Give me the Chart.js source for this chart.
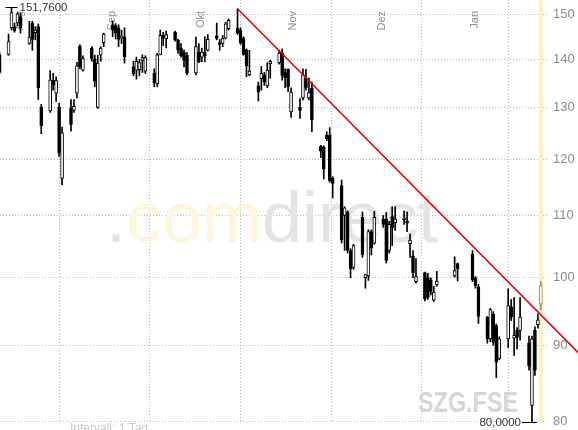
<!DOCTYPE html>
<html><head><meta charset="utf-8">
<script src="https://cdn.jsdelivr.net/npm/chart.js@4.4.1/dist/chart.umd.min.js"></script>
<style>html,body{margin:0;padding:0;background:#fff}#wrap{width:578px;height:430px;position:relative}</style>
</head><body><div id="wrap"><canvas id="c" width="578" height="430"></canvas></div>
<script>
// ---- data (SZG.FSE, daily, Jul 2007 - Jan 2008) ----
const dates = ['2007-07-27','2007-07-30','2007-07-31','2007-08-01','2007-08-02','2007-08-03',
'2007-08-06','2007-08-07','2007-08-08','2007-08-09','2007-08-10',
'2007-08-13','2007-08-14','2007-08-15','2007-08-16','2007-08-17',
'2007-08-20','2007-08-21','2007-08-22','2007-08-23','2007-08-24',
'2007-08-27','2007-08-28','2007-08-29','2007-08-30','2007-08-31',
'2007-09-03','2007-09-04','2007-09-05','2007-09-06','2007-09-07',
'2007-09-10','2007-09-11','2007-09-12','2007-09-13','2007-09-14',
'2007-09-17','2007-09-18','2007-09-19','2007-09-20','2007-09-21',
'2007-09-24','2007-09-25','2007-09-26','2007-09-27','2007-09-28',
'2007-10-01','2007-10-02','2007-10-03','2007-10-04','2007-10-05',
'2007-10-08','2007-10-09','2007-10-10','2007-10-11','2007-10-12',
'2007-10-15','2007-10-16','2007-10-17','2007-10-18','2007-10-19',
'2007-10-22','2007-10-23','2007-10-24','2007-10-25','2007-10-26',
'2007-10-29','2007-10-30','2007-10-31','2007-11-01','2007-11-02',
'2007-11-05','2007-11-06','2007-11-07','2007-11-08','2007-11-09',
'2007-11-12','2007-11-13','2007-11-14','2007-11-15','2007-11-16',
'2007-11-19','2007-11-20','2007-11-21','2007-11-22','2007-11-23',
'2007-11-26','2007-11-27','2007-11-28','2007-11-29','2007-11-30',
'2007-12-03','2007-12-04','2007-12-05','2007-12-06','2007-12-07',
'2007-12-10','2007-12-11','2007-12-12','2007-12-13','2007-12-14',
'2007-12-17','2007-12-18','2007-12-19','2007-12-20','2007-12-21',
'2007-12-27','2007-12-28',
'2008-01-02','2008-01-03','2008-01-04',
'2008-01-07','2008-01-08','2008-01-09','2008-01-10','2008-01-11',
'2008-01-14','2008-01-15','2008-01-16','2008-01-17','2008-01-18',
'2008-01-21','2008-01-22','2008-01-23','2008-01-24','2008-01-25'];

const open = [141.0,141.1,147.0,147.2,148.1,149.6,
143.5,148.1,145.9,147.3,130.0,
129.3,135.6,132.9,130.0,116.5,
129.8,129.4,132.9,142.9,137.7,
142.5,140.0,130.0,140.9,143.7,
147.5,147.5,147.0,144.7,145.0,
138.4,137.7,137.8,139.8,137.5,
137.1,134.8,141.0,145.3,144.5,
146.0,144.2,142.4,141.6,140.9,
137.1,141.6,140.5,141.5,142.0,
145.2,143.7,143.5,144.7,146.8,
147.0,146.5,144.7,142.1,136.7,
134.4,135.9,136.6,134.4,139.1,
139.3,141.4,137.2,137.9,129.1,
130.0,131.9,136.1,131.9,133.9,
122.4,122.2,124.5,124.6,116.5,
115.2,110.0,110.6,104.2,101.5,
109.7,99.9,100.2,107.3,105.4,
109.4,109.4,104.2,109.8,108.8,
109.3,109.1,105.3,103.3,99.3,
100.7,99.9,99.6,96.5,98.8,
100.2,102.1,
103.6,99.9,98.5,
94.0,90.9,94.4,92.8,88.2,
90.9,95.5,91.0,92.1,92.1,
90.3,82.0,92.1,92.9,95.9];

const high = [141.5,145.6,151.76,148.1,150.5,150.4,
148.5,148.5,147.3,147.9,130.6,
137.6,137.0,136.3,130.8,126.1,
131.6,131.6,139.4,143.2,140.8,
142.8,140.9,140.9,142.8,145.8,
148.6,148.0,147.7,146.5,147.0,
139.6,140.5,140.0,141.0,140.8,
138.0,141.3,146.5,146.0,146.3,
146.3,144.5,143.5,142.1,141.5,
144.9,143.5,142.5,145.0,145.5,
148.1,144.4,145.3,148.3,149.0,
151.4,147.0,145.0,142.3,142.0,
135.2,138.5,137.2,139.3,139.8,
142.0,142.3,138.0,138.0,134.0,
131.8,138.0,137.9,136.0,135.2,
122.6,122.5,125.2,126.0,116.8,
116.2,111.5,110.8,104.5,105.2,
110.6,100.4,107.6,107.6,110.7,
110.0,110.5,109.0,111.5,111.5,
110.8,110.6,106.9,104.2,102.9,
100.8,100.6,99.9,98.6,100.9,
103.2,102.2,
104.2,100.1,98.9,
94.1,95.3,94.8,93.0,91.2,
98.2,96.6,96.9,92.5,96.9,
91.3,91.3,92.6,94.5,99.3];

const low = [137.0,140.9,146.5,146.0,147.5,145.8,
143.3,142.0,144.3,131.6,124.8,
129.0,133.5,131.2,120.5,115.3,
125.3,129.0,131.9,138.0,137.5,
139.6,134.2,129.8,139.6,142.8,
145.0,144.5,142.8,143.5,139.2,
136.5,135.8,136.5,137.2,137.0,
134.2,134.2,141.0,143.0,142.5,
144.0,141.3,140.5,138.4,136.7,
136.7,139.3,139.5,139.5,141.8,
144.3,142.0,142.8,144.5,146.5,
145.5,143.3,140.9,136.3,136.5,
131.3,133.5,134.5,134.0,136.0,
139.0,135.6,134.0,133.2,128.0,
127.8,131.5,133.5,131.5,125.2,
120.3,116.4,123.5,115.8,113.0,
105.4,104.2,103.8,99.9,101.2,
103.1,98.3,99.5,103.5,105.2,
108.0,102.2,103.8,105.0,107.5,
108.5,107.3,103.1,99.9,99.1,
96.4,96.6,97.3,96.3,98.6,
100.0,99.4,
99.3,98.3,93.1,
90.3,90.5,90.0,85.6,88.0,
89.7,93.5,88.6,89.5,90.7,
86.6,80.0,85.9,92.4,95.1];

const close = [137.2,143.9,150.5,146.3,150.2,147.0,
144.9,144.4,146.5,134.0,126.4,
135.6,134.6,135.5,121.1,125.0,
126.6,130.2,138.6,138.4,140.2,
140.2,135.4,139.2,142.5,145.6,
146.5,145.8,144.4,145.2,140.6,
136.9,139.6,139.3,140.4,140.4,
135.0,141.0,145.3,144.8,145.5,
144.3,142.0,140.8,139.8,137.1,
142.8,139.5,141.6,140.8,144.4,
144.6,143.3,144.6,147.9,148.7,
145.8,143.7,141.1,138.6,137.5,
133.1,137.0,135.2,137.7,139.6,
141.4,136.6,136.1,134.2,133.1,
129.4,136.7,134.0,133.0,127.5,
121.5,118.2,123.8,116.1,115.6,
105.9,111.3,104.2,101.3,105.0,
103.5,100.4,107.3,104.6,109.7,
108.5,102.6,108.5,107.9,109.4,
109.6,108.7,105.9,100.7,100.1,
96.7,96.9,97.8,97.7,99.4,
101.0,101.3,
99.6,98.7,94.1,
90.9,95.1,90.4,87.7,90.9,
95.7,94.0,91.4,91.1,94.0,
87.2,90.9,86.6,93.6,98.7];

const trendDates = ['2007-10-15','2008-02-07'];
const trendValues = [151.4, 88.8];

const yTickValues = [80,90,100,110,120,130,140,150];
const monthStarts = ['2007-08-01','2007-09-01','2007-10-01','2007-11-01','2007-12-01','2008-01-01'];
const monthLabels = ['Aug','Sep','Okt','Nov','Dez','Jan'];
const symbolLabel = 'SZG.FSE';
const intervalLabel = 'Intervall: 1 Tag';

// ---- helpers ----
const base = Date.UTC(2007,7,1);
function dayIdx(s){const p=s.split('-').map(Number);return (Date.UTC(p[0],p[1]-1,p[2])-base)/864e5;}
function xc(s){return dayIdx(s)+0.5;}   // candle centred in its day
const lastIdx = dates.length-1;
const HL = '#a89040';

const bodies = dates.map((d,i)=>({x:xc(d), y:[open[i], close[i]]}));
const wicks  = dates.map((d,i)=>({x:xc(d), y:[low[i], high[i]]}));
const trend  = trendDates.map((d,i)=>({x:xc(d), y:trendValues[i]}));

function fmt(v,dec){return v.toFixed(dec).replace('.',',');}

const deco = {
  id:'deco',
  beforeDatasetsDraw(chart){
    const {ctx, chartArea:a, scales:{x,y}} = chart;
    ctx.save();
    // watermark
    ctx.font = '72px "Liberation Sans", Arial, sans-serif';
    ctx.textBaseline = 'alphabetic';
    ctx.textAlign = 'left';
    let px = 106; const py = 242;
    [['.','#e4e4e4'],['com','#fef6da'],['direct','#e4e4e4']].forEach(([t,c])=>{
      ctx.fillStyle=c; ctx.fillText(t,px,py); px += ctx.measureText(t).width;
    });
    ctx.save();
    ctx.font = 'bold 30px "Liberation Sans", Arial, sans-serif';
    ctx.fillStyle = '#d6d6d6';
    ctx.translate(418, 412); ctx.scale(0.78,1);
    ctx.fillText(symbolLabel, 0, 0);
    ctx.restore();
    // current-day marker
    const lx = x.getPixelForValue(xc(dates[lastIdx]));
    ctx.fillStyle = '#fcefc0';
    ctx.fillRect(lx-2, a.top, 4, a.bottom-a.top);
    // month labels
    ctx.font = '11px "Liberation Sans", Arial, sans-serif';
    ctx.fillStyle = '#8c8c8c';
    monthStarts.forEach((m,i)=>{
      const gx = x.getPixelForValue(dayIdx(m));
      ctx.save(); ctx.translate(gx+1, 11); ctx.rotate(-Math.PI/2);
      ctx.textAlign='right'; ctx.textBaseline='top';
      ctx.fillText(monthLabels[i],0,0); ctx.restore();
    });
    // footer
    ctx.font = '12px "Liberation Sans", Arial, sans-serif';
    ctx.fillStyle = '#c8c8c8'; ctx.textBaseline='top'; ctx.textAlign='left';
    ctx.fillText(intervalLabel, 70, 423);
    ctx.restore();
  },
  afterDatasetsDraw(chart){
    const {ctx, scales:{x,y}} = chart;
    let hi=0, lo=0;
    high.forEach((v,i)=>{if(v>high[hi])hi=i;});
    low.forEach((v,i)=>{if(v<low[lo])lo=i;});
    ctx.save();
    ctx.strokeStyle='#000'; ctx.lineWidth=1;
    ctx.font = '11.5px "Liberation Sans", Arial, sans-serif';
    ctx.fillStyle = '#333'; ctx.textBaseline='middle';
    let cx = x.getPixelForValue(xc(dates[hi])), cy = Math.round(y.getPixelForValue(high[hi]))+0.5;
    ctx.beginPath(); ctx.moveTo(cx-6,cy); ctx.lineTo(cx+6,cy); ctx.stroke();
    ctx.textAlign='left'; ctx.fillText(fmt(high[hi],4), cx+8, cy);
    cx = x.getPixelForValue(xc(dates[lo])); cy = Math.round(y.getPixelForValue(low[lo]))+0.5;
    ctx.beginPath(); ctx.moveTo(cx-10,cy); ctx.lineTo(cx+5,cy); ctx.stroke();
    ctx.textAlign='right'; ctx.fillText(fmt(low[lo],4), cx-11, cy);
    ctx.restore();
  }
};

new Chart(document.getElementById('c'), {
  type:'bar',
  data:{datasets:[
    {type:'line', data:trend, borderColor:'#e00000', borderWidth:1.5, pointRadius:0, clip:false, order:-1, fill:false},
    {data:bodies, order:0, grouped:false, barThickness:3, borderSkipped:false, borderWidth:1,
     borderColor:(c)=>c.dataIndex===lastIdx?HL:'#000',
     backgroundColor:(c)=>{const i=c.dataIndex; return close[i]>=open[i]?'#fff':(i===lastIdx?HL:'#000');}},
    {data:wicks, order:1, grouped:false, barThickness:1, borderWidth:0,
     backgroundColor:(c)=>c.dataIndex===lastIdx?HL:'#000'}
  ]},
  options:{
    responsive:false, animation:false, events:[],
    layout:{padding:0},
    plugins:{legend:{display:false}, tooltip:{enabled:false}},
    scales:{
      x:{type:'linear', min:-4.371, max:179.89, offset:false,
         grid:{color:'#b8b8c4', drawTicks:false, lineWidth:1},
         border:{display:false, dash:[1,2]},
         ticks:{display:false},
         afterBuildTicks:(s)=>{s.ticks = monthStarts.map(m=>({value:dayIdx(m)})).concat([{value:179.89}]);},
         afterFit:(s)=>{s.height=8;}},
      y:{type:'logarithmic', position:'right', min:79.94, max:153.47,
         grid:{color:'#b8b8c4', drawTicks:false, lineWidth:1},
         border:{display:false, dash:[1,2]},
         ticks:{padding:5, color:'#8c8c8c', font:{family:'"Liberation Sans", Arial, sans-serif', size:13},
                callback:(v)=>String(v)},
         afterBuildTicks:(s)=>{s.ticks = yTickValues.map(v=>({value:v}));},
         afterFit:(s)=>{s.width=30; s.paddingTop=0; s.paddingBottom=0;}}
    }
  },
  plugins:[deco]
});
</script>
</body></html>
